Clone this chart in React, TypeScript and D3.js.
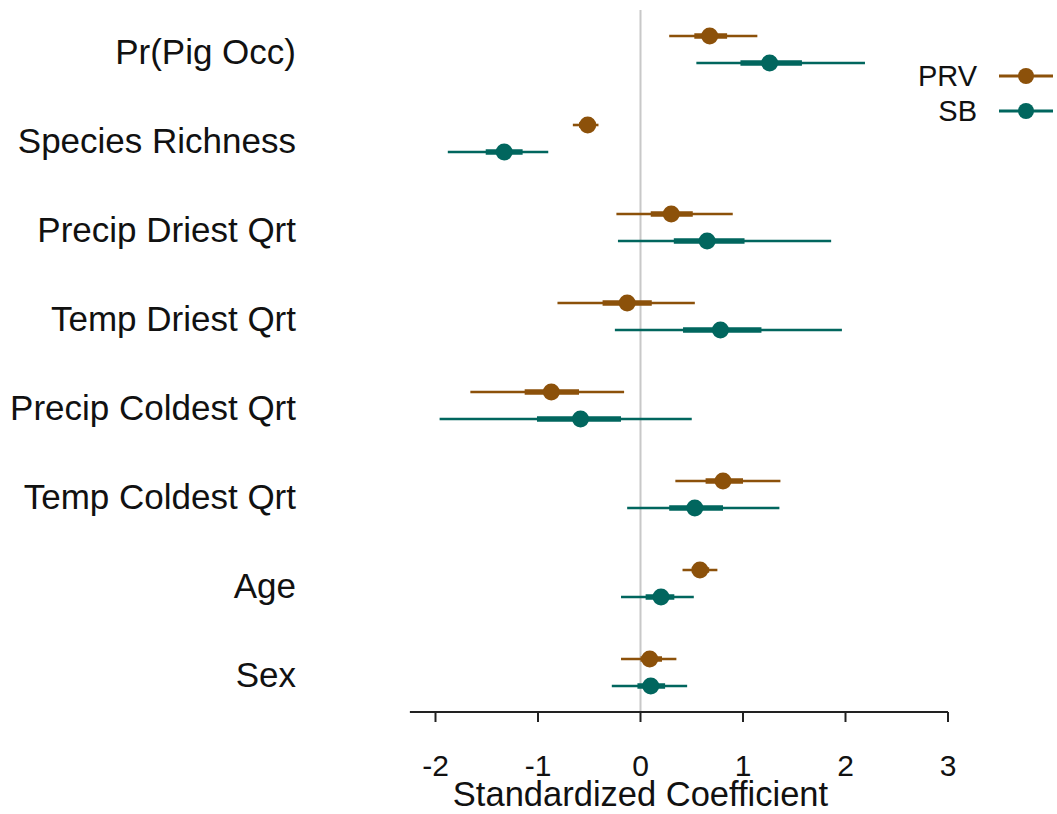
import React from "react";
import * as d3 from "d3";

const terms = [
  "Pr(Pig Occ)",
  "Species Richness",
  "Precip Driest Qrt",
  "Temp Driest Qrt",
  "Precip Coldest Qrt",
  "Temp Coldest Qrt",
  "Age",
  "Sex",
];

const seriesNames = ["PRV", "SB"];
const seriesColors = ["#8c510a", "#01665e"];

// PRV estimates
const prvEst = [0.675, -0.515, 0.3, -0.13, -0.87, 0.805, 0.58, 0.09];
const prvLo95 = [0.28, -0.66, -0.235, -0.81, -1.66, 0.34, 0.41, -0.19];
const prvHi95 = [1.14, -0.41, 0.9, 0.53, -0.16, 1.365, 0.75, 0.35];
const prvLo50 = [0.525, -0.6, 0.1, -0.37, -1.13, 0.635, 0.5, 0.0];
const prvHi50 = [0.845, -0.44, 0.51, 0.11, -0.6, 1.0, 0.67, 0.21];

// SB estimates
const sbEst = [1.26, -1.33, 0.65, 0.78, -0.585, 0.53, 0.2, 0.1];
const sbLo95 = [0.545, -1.88, -0.22, -0.25, -1.96, -0.13, -0.19, -0.28];
const sbHi95 = [2.19, -0.9, 1.86, 1.965, 0.5, 1.355, 0.52, 0.455];
const sbLo50 = [0.975, -1.51, 0.325, 0.415, -1.01, 0.28, 0.05, -0.03];
const sbHi50 = [1.575, -1.15, 1.015, 1.18, -0.19, 0.805, 0.33, 0.24];

const xTicks = [-2, -1, 0, 1, 2, 3];

const FONT = "'Liberation Sans', Arial, sans-serif";

export default function App() {
  const W = 1057;
  const H = 814;
  const x = d3.scaleLinear().domain([-2, 3]).range([435.5, 948]);
  const y = d3
    .scaleBand<string>()
    .domain(terms)
    .range([5, 717]);
  const offsets = [-13.5, 13.5];

  const series = [
    { est: prvEst, lo95: prvLo95, hi95: prvHi95, lo50: prvLo50, hi50: prvHi50 },
    { est: sbEst, lo95: sbLo95, hi95: sbHi95, lo50: sbLo50, hi50: sbHi50 },
  ];

  const axisY = 712;
  const axisLeft = x(-2.25);

  return (
    <svg
      width={W}
      height={H}
      style={{ position: "absolute", left: 0, top: 0, background: "#fff" }}
      fontFamily={FONT}
    >
      {/* zero line */}
      <line x1={x(0)} x2={x(0)} y1={10} y2={axisY} stroke="#c8c8c8" strokeWidth={2} />

      {/* row labels */}
      {terms.map((t) => (
        <text
          key={t}
          x={296}
          y={(y(t) as number) + y.bandwidth() / 2 + 2}
          textAnchor="end"
          dominantBaseline="central"
          fontSize={35}
          fill="#111"
        >
          {t}
        </text>
      ))}

      {/* intervals and points */}
      {series.map((s, si) =>
        terms.map((t, i) => {
          const cy = (y(t) as number) + y.bandwidth() / 2 + offsets[si];
          const c = seriesColors[si];
          return (
            <g key={`${si}-${i}`}>
              <line x1={x(s.lo95[i])} x2={x(s.hi95[i])} y1={cy} y2={cy} stroke={c} strokeWidth={2.6} />
              <line x1={x(s.lo50[i])} x2={x(s.hi50[i])} y1={cy} y2={cy} stroke={c} strokeWidth={5.5} />
              <circle cx={x(s.est[i])} cy={cy} r={8.5} fill={c} />
            </g>
          );
        })
      )}

      {/* x axis */}
      <line x1={axisLeft} x2={x(3)} y1={axisY} y2={axisY} stroke="#222" strokeWidth={2} />
      {xTicks.map((v) => (
        <g key={v}>
          <line x1={x(v)} x2={x(v)} y1={axisY} y2={axisY + 10} stroke="#222" strokeWidth={2} />
          <text x={x(v)} y={776} textAnchor="middle" fontSize={30} fill="#111">
            {v}
          </text>
        </g>
      ))}
      <text x={x(0)} y={806} textAnchor="middle" fontSize={34.5} fill="#111">
        Standardized Coefficient
      </text>

      {/* legend */}
      {seriesNames.map((n, i) => {
        const ly = 76 + i * 35;
        return (
          <g key={n}>
            <text x={977} y={ly + 10} textAnchor="end" fontSize={29} fill="#111">
              {n}
            </text>
            <line x1={999} x2={1053} y1={ly} y2={ly} stroke={seriesColors[i]} strokeWidth={3} />
            <circle cx={1026} cy={ly} r={8} fill={seriesColors[i]} />
          </g>
        );
      })}
    </svg>
  );
}
